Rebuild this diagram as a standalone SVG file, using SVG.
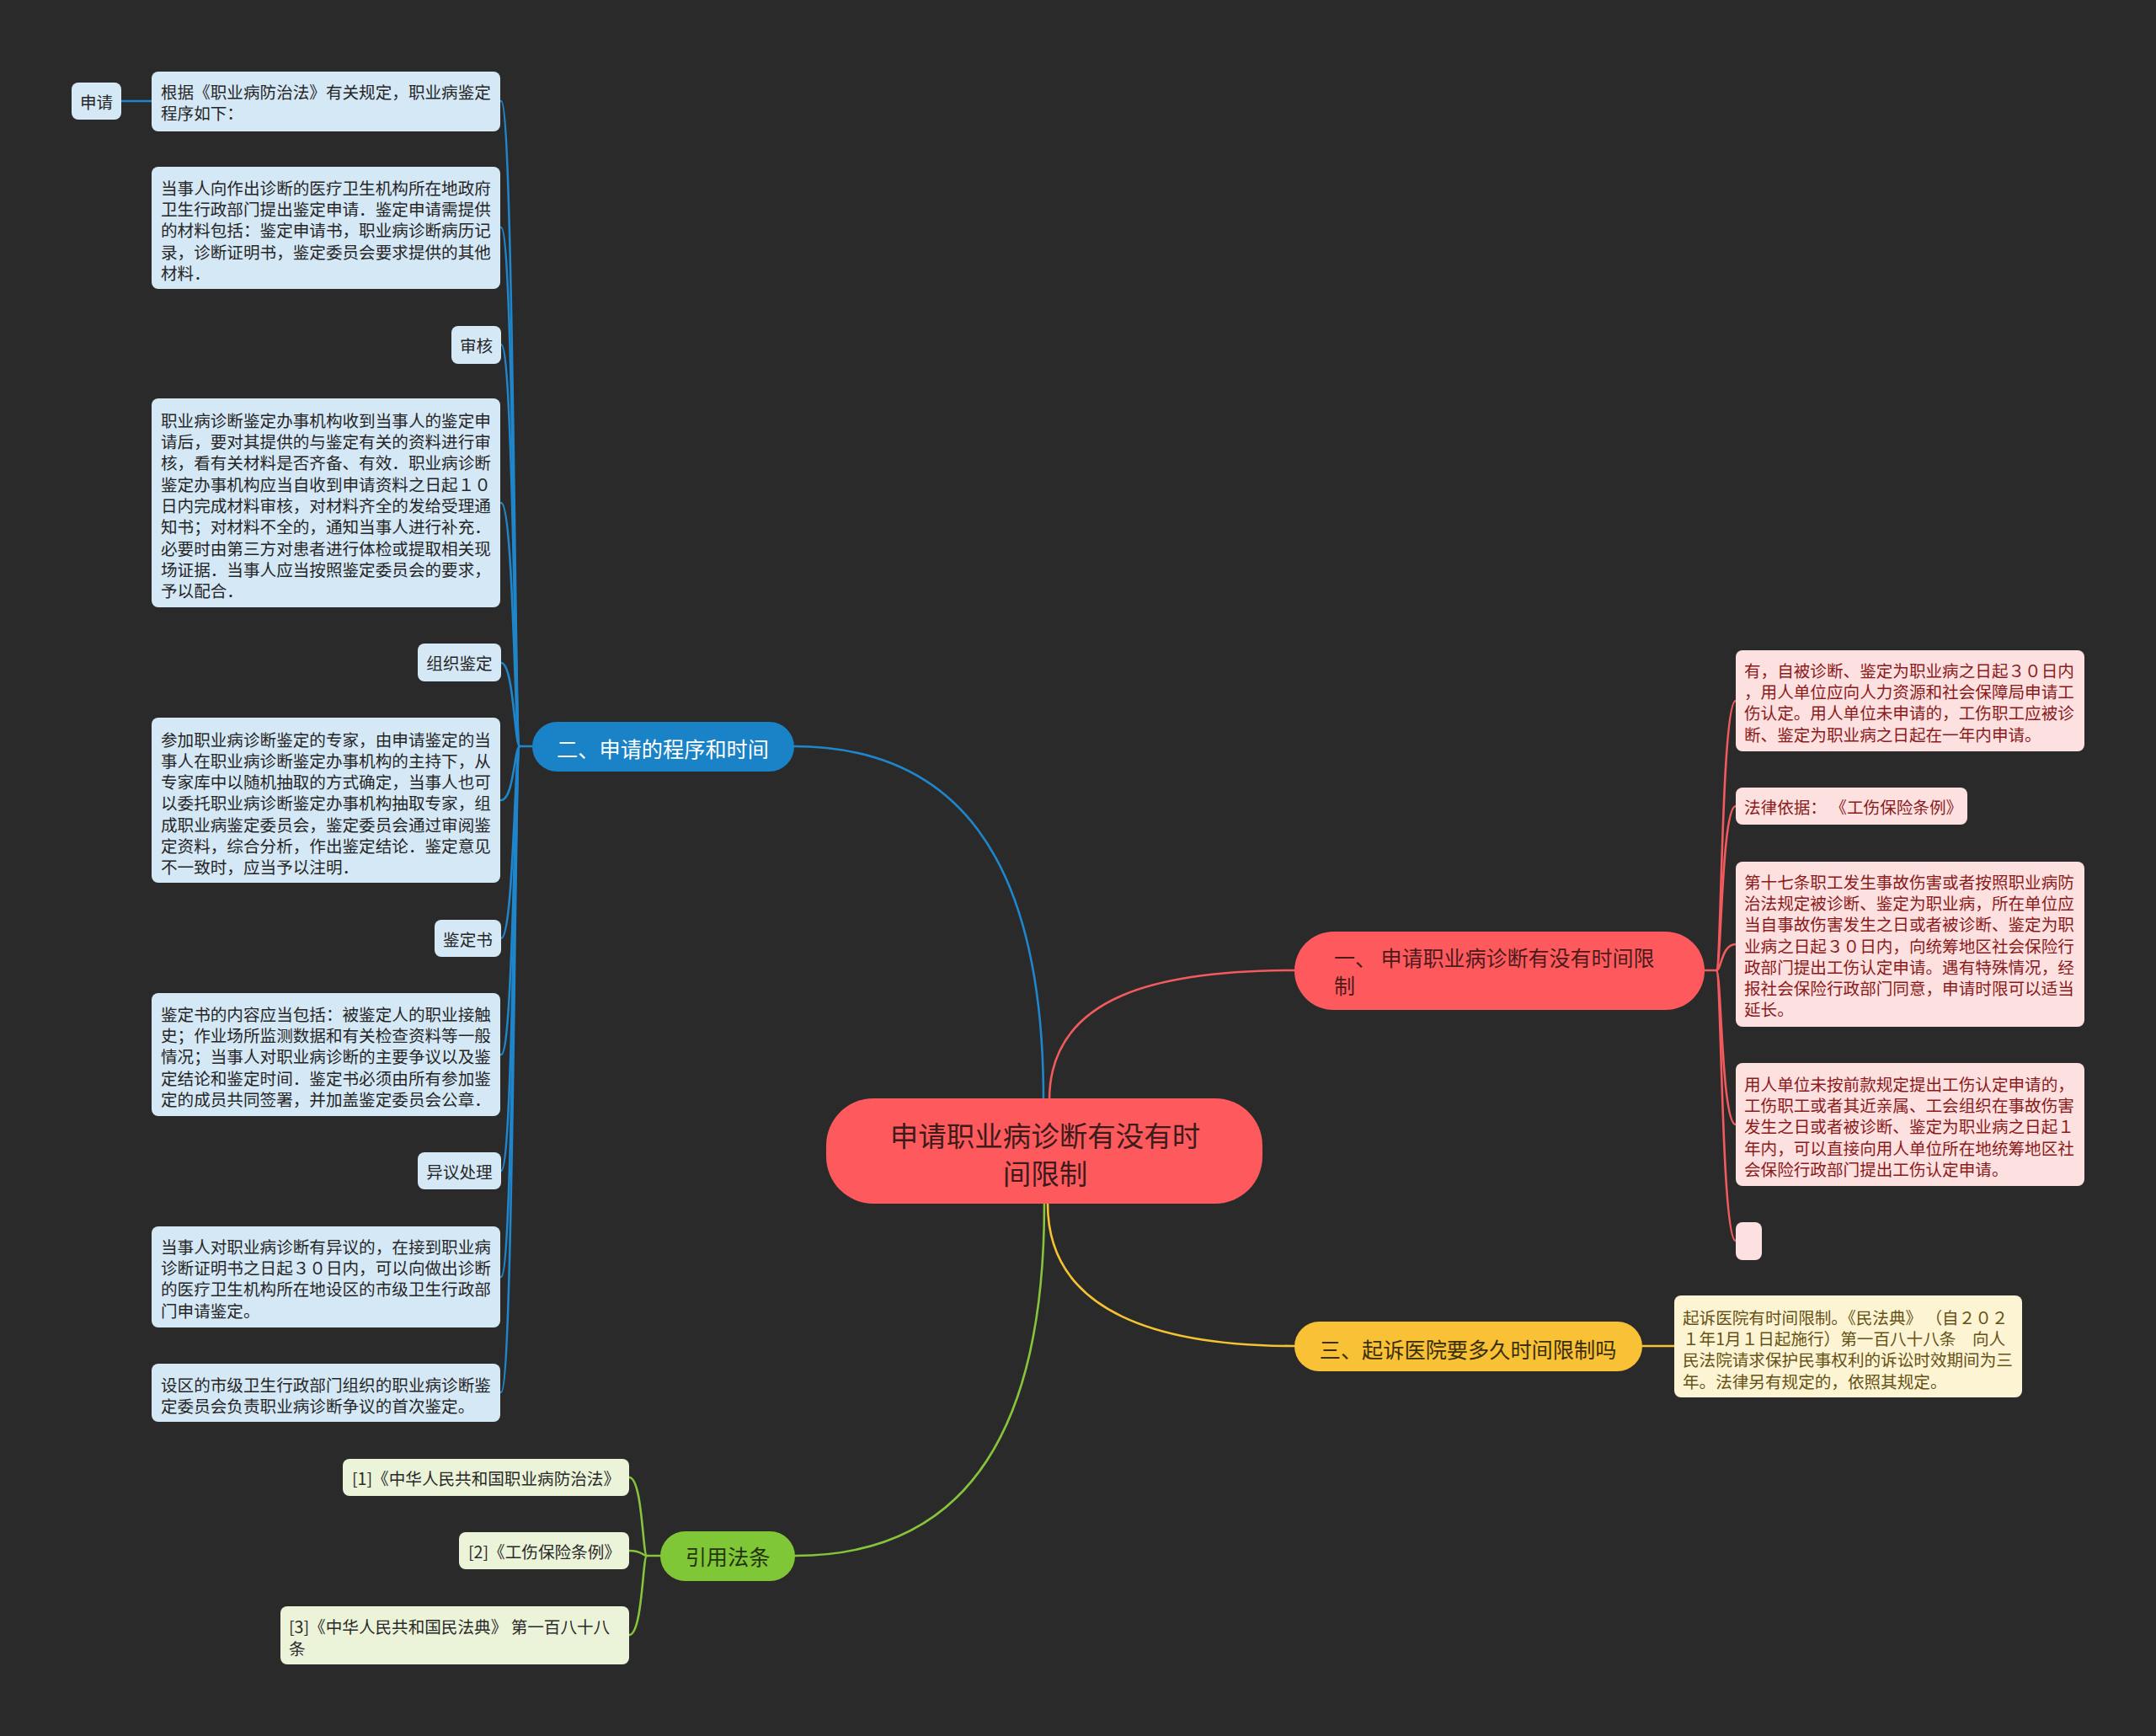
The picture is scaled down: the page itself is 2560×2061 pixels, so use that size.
<svg xmlns="http://www.w3.org/2000/svg" width="2560" height="2061" viewBox="0 0 2560 2061">
<style>
text{font-family:"Noto Sans CJK SC","Noto Sans",sans-serif;dominant-baseline:central}
.lb{fill:#d5e8f6}
.lr{fill:#fde1e1}
.ly{fill:#fdf4d3}
.lg{fill:#ebf3d8}
.tb{font-size:19.6px;fill:#262626}
.tr{font-size:19.6px;fill:#8b1a1a}
.ty{font-size:19.6px;fill:#655216}
.tg{font-size:19.6px;fill:#2a2a2a}
.c{fill:none;stroke-width:2.6;stroke-linecap:round}
.cb{stroke:#1f86cc}
.cr{stroke:#f25a5e}
.cy{stroke:#f5c231}
.cg{stroke:#86c53b}
.mid{text-anchor:middle}
</style>
<rect x="0" y="0" width="2560" height="2061" fill="#2a2a2a"/>

<g id="connectors">
  <path class="c cb" d="M1239,1306 C1239,1010 1130,886 942,886" stroke-width="3"/>
  <path class="c cr" d="M1246,1306 C1246,1180 1380,1152 1537,1152" stroke-width="3"/>
  <path class="c cy" d="M1244,1429 C1244,1560 1380,1598 1537,1598" stroke-width="3"/>
  <path class="c cg" d="M1240,1429 C1240,1760 1100,1847 944,1847" stroke-width="3"/>

  <path class="c cb" d="M144,120 L180,120" stroke-width="3.5"/>
  <path class="c cb" d="M632,886 L617,886"/>
  <path class="c cb" d="M617,886 C611,886 610,120 595,120"/>
  <path class="c cb" d="M617,886 C611,886 610,270 595,270"/>
  <path class="c cb" d="M617,886 C611,886 610,409 595,409"/>
  <path class="c cb" d="M617,886 C611,886 610,597 595,597"/>
  <path class="c cb" d="M617,886 C611,886 610,787 595,787"/>
  <path class="c cb" d="M617,886 C611,886 610,950 595,950"/>
  <path class="c cb" d="M617,886 C611,886 610,1114 595,1114"/>
  <path class="c cb" d="M617,886 C611,886 610,1252 595,1252"/>
  <path class="c cb" d="M617,886 C611,886 610,1390 595,1390"/>
  <path class="c cb" d="M617,886 C611,886 610,1516 595,1516"/>
  <path class="c cb" d="M617,886 C611,886 610,1653 595,1653"/>

  <path class="c cr" d="M2024,1152 L2038,1152"/>
  <path class="c cr" d="M2038,1152 C2044,1152 2044,832 2061,832"/>
  <path class="c cr" d="M2038,1152 C2044,1152 2044,957 2061,957"/>
  <path class="c cr" d="M2038,1152 C2044,1152 2044,1121 2061,1121"/>
  <path class="c cr" d="M2038,1152 C2044,1152 2044,1335 2061,1335"/>
  <path class="c cr" d="M2038,1152 C2044,1152 2044,1473 2061,1473"/>

  <path class="c cy" d="M1950,1598 L1988,1598"/>

  <path class="c cg" d="M784,1847 L768,1847"/>
  <path class="c cg" d="M768,1847 C763,1847 763,1754 747,1754"/>
  <path class="c cg" d="M768,1847 C763,1847 763,1841 747,1841"/>
  <path class="c cg" d="M768,1847 C763,1847 763,1941 747,1941"/>
</g>

<g id="center">
  <rect x="981" y="1304" width="518" height="125" rx="56" fill="#fe5a5e"/>
  <text class="mid" x="1241" y="1346" font-size="33.5" fill="#3d1b1b">申请职业病诊断有没有时</text>
  <text class="mid" x="1241" y="1391" font-size="33.5" fill="#3d1b1b">间限制</text>
</g>

<g id="branch2">
  <rect x="632" y="857" width="311" height="59" rx="29.5" fill="#1a82c6"/>
  <text class="mid" x="787" y="888" font-size="25.2" fill="#ffffff">二、申请的程序和时间</text>
</g>

<g id="branch1">
  <rect x="1537" y="1106" width="487" height="93" rx="46.5" fill="#fe5a5e"/>
  <text x="1584" y="1136" font-size="25" fill="#4d1a1a">一、 申请职业病诊断有没有时间限</text>
  <text x="1584" y="1169" font-size="25" fill="#4d1a1a">制</text>
</g>

<g id="branch3">
  <rect x="1537" y="1569" width="413" height="59" rx="29.5" fill="#f8c136"/>
  <text class="mid" x="1743" y="1601" font-size="25.2" fill="#3b2f0c">三、起诉医院要多久时间限制吗</text>
</g>

<g id="branch4">
  <rect x="784" y="1818" width="160" height="59" rx="29.5" fill="#80c737"/>
  <text class="mid" x="864" y="1847" font-size="25.2" fill="#24340f">引用法条</text>
</g>

<g id="b-shenqing">
  <rect class="lb" x="85" y="98" width="59" height="44" rx="8"/>
  <text class="tb mid" x="114.5" y="120">申请</text>
</g>
<g id="b-genju">
  <rect class="lb" x="180" y="85" width="414" height="71" rx="8"/>
  <text class="tb" x="191" y="108">根据《职业病防治法》有关规定，职业病鉴定</text>
  <text class="tb" x="191" y="133">程序如下：</text>
</g>
<g id="b-dangshiren1">
  <rect class="lb" x="180" y="198" width="414" height="145" rx="8"/>
  <text class="tb" x="191" y="222">当事人向作出诊断的医疗卫生机构所在地政府</text>
  <text class="tb" x="191" y="247.3">卫生行政部门提出鉴定申请．鉴定申请需提供</text>
  <text class="tb" x="191" y="272.6">的材料包括：鉴定申请书，职业病诊断病历记</text>
  <text class="tb" x="191" y="298">录，诊断证明书，鉴定委员会要求提供的其他</text>
  <text class="tb" x="191" y="323.2">材料．</text>
</g>
<g id="b-shenhe">
  <rect class="lb" x="536" y="387" width="59" height="45" rx="8"/>
  <text class="tb mid" x="565.5" y="409.5">审核</text>
</g>
<g id="b-zhiye">
  <rect class="lb" x="180" y="473" width="414" height="248" rx="8"/>
  <text class="tb" x="191" y="498">职业病诊断鉴定办事机构收到当事人的鉴定申</text>
  <text class="tb" x="191" y="523.4">请后，要对其提供的与鉴定有关的资料进行审</text>
  <text class="tb" x="191" y="548.7">核，看有关材料是否齐备、有效．职业病诊断</text>
  <text class="tb" x="191" y="574">鉴定办事机构应当自收到申请资料之日起１０</text>
  <text class="tb" x="191" y="599.4">日内完成材料审核，对材料齐全的发给受理通</text>
  <text class="tb" x="191" y="624.8">知书；对材料不全的，通知当事人进行补充．</text>
  <text class="tb" x="191" y="650.1">必要时由第三方对患者进行体检或提取相关现</text>
  <text class="tb" x="191" y="675.5">场证据．当事人应当按照鉴定委员会的要求，</text>
  <text class="tb" x="191" y="700.8">予以配合．</text>
</g>
<g id="b-zuzhi">
  <rect class="lb" x="496" y="764" width="99" height="45" rx="8"/>
  <text class="tb mid" x="545.5" y="786.5">组织鉴定</text>
</g>
<g id="b-canjia">
  <rect class="lb" x="180" y="852" width="414" height="196" rx="8"/>
  <text class="tb" x="191" y="877">参加职业病诊断鉴定的专家，由申请鉴定的当</text>
  <text class="tb" x="191" y="902.3">事人在职业病诊断鉴定办事机构的主持下，从</text>
  <text class="tb" x="191" y="927.6">专家库中以随机抽取的方式确定，当事人也可</text>
  <text class="tb" x="191" y="952.9">以委托职业病诊断鉴定办事机构抽取专家，组</text>
  <text class="tb" x="191" y="978.2">成职业病鉴定委员会，鉴定委员会通过审阅鉴</text>
  <text class="tb" x="191" y="1003.5">定资料，综合分析，作出鉴定结论．鉴定意见</text>
  <text class="tb" x="191" y="1028.8">不一致时，应当予以注明．</text>
</g>
<g id="b-jiandingshu">
  <rect class="lb" x="516" y="1092" width="79" height="44" rx="8"/>
  <text class="tb mid" x="555.5" y="1114">鉴定书</text>
</g>
<g id="b-neirong">
  <rect class="lb" x="180" y="1179" width="414" height="146" rx="8"/>
  <text class="tb" x="191" y="1203">鉴定书的内容应当包括：被鉴定人的职业接触</text>
  <text class="tb" x="191" y="1228.3">史；作业场所监测数据和有关检查资料等一般</text>
  <text class="tb" x="191" y="1253.6">情况；当事人对职业病诊断的主要争议以及鉴</text>
  <text class="tb" x="191" y="1279">定结论和鉴定时间．鉴定书必须由所有参加鉴</text>
  <text class="tb" x="191" y="1304.2">定的成员共同签署，并加盖鉴定委员会公章．</text>
</g>
<g id="b-yiyi">
  <rect class="lb" x="496" y="1368" width="99" height="44" rx="8"/>
  <text class="tb mid" x="545.5" y="1390">异议处理</text>
</g>
<g id="b-dangshiren2">
  <rect class="lb" x="180" y="1456" width="414" height="120" rx="8"/>
  <text class="tb" x="191" y="1479">当事人对职业病诊断有异议的，在接到职业病</text>
  <text class="tb" x="191" y="1504.3">诊断证明书之日起３０日内，可以向做出诊断</text>
  <text class="tb" x="191" y="1529.6">的医疗卫生机构所在地设区的市级卫生行政部</text>
  <text class="tb" x="191" y="1555">门申请鉴定。</text>
</g>
<g id="b-shequ">
  <rect class="lb" x="180" y="1619" width="414" height="69" rx="8"/>
  <text class="tb" x="191" y="1643">设区的市级卫生行政部门组织的职业病诊断鉴</text>
  <text class="tb" x="191" y="1668">定委员会负责职业病诊断争议的首次鉴定。</text>
</g>

<g id="r-you">
  <rect class="lr" x="2061" y="772" width="414" height="120" rx="8"/>
  <text class="tr" x="2071" y="795">有，自被诊断、鉴定为职业病之日起３０日内</text>
  <text class="tr" x="2071" y="820.3">，用人单位应向人力资源和社会保障局申请工</text>
  <text class="tr" x="2071" y="845.6">伤认定。用人单位未申请的，工伤职工应被诊</text>
  <text class="tr" x="2071" y="871">断、鉴定为职业病之日起在一年内申请。</text>
</g>
<g id="r-falv">
  <rect class="lr" x="2061" y="935" width="275" height="44" rx="8"/>
  <text class="tr" x="2071" y="957" xml:space="preserve">法律依据： 《工伤保险条例》</text>
</g>
<g id="r-shiqi">
  <rect class="lr" x="2061" y="1023" width="414" height="196" rx="8"/>
  <text class="tr" x="2071" y="1046">第十七条职工发生事故伤害或者按照职业病防</text>
  <text class="tr" x="2071" y="1071.3">治法规定被诊断、鉴定为职业病，所在单位应</text>
  <text class="tr" x="2071" y="1096.6">当自事故伤害发生之日或者被诊断、鉴定为职</text>
  <text class="tr" x="2071" y="1122">业病之日起３０日内，向统筹地区社会保险行</text>
  <text class="tr" x="2071" y="1147.2">政部门提出工伤认定申请。遇有特殊情况，经</text>
  <text class="tr" x="2071" y="1172.5">报社会保险行政部门同意，申请时限可以适当</text>
  <text class="tr" x="2071" y="1197.8">延长。</text>
</g>
<g id="r-yongren">
  <rect class="lr" x="2061" y="1262" width="414" height="146" rx="8"/>
  <text class="tr" x="2071" y="1286">用人单位未按前款规定提出工伤认定申请的，</text>
  <text class="tr" x="2071" y="1311.3">工伤职工或者其近亲属、工会组织在事故伤害</text>
  <text class="tr" x="2071" y="1336.6">发生之日或者被诊断、鉴定为职业病之日起１</text>
  <text class="tr" x="2071" y="1362">年内，可以直接向用人单位所在地统筹地区社</text>
  <text class="tr" x="2071" y="1387.2">会保险行政部门提出工伤认定申请。</text>
</g>
<g id="r-empty">
  <rect class="lr" x="2061" y="1451" width="31" height="45" rx="8"/>
</g>

<g id="y-qisu">
  <rect class="ly" x="1988" y="1538" width="413" height="121" rx="8"/>
  <text class="ty" x="1998" y="1563" xml:space="preserve">起诉医院有时间限制。《民法典》 （自２０２</text>
  <text class="ty" x="1998" y="1588.3">１年1月１日起施行）第一百八十八条　向人</text>
  <text class="ty" x="1998" y="1613.6">民法院请求保护民事权利的诉讼时效期间为三</text>
  <text class="ty" x="1998" y="1639">年。法律另有规定的，依照其规定。</text>
</g>

<g id="g-ref1">
  <rect class="lg" x="407" y="1732" width="340" height="44" rx="8"/>
  <text class="tg" x="418" y="1754">[1]《中华人民共和国职业病防治法》</text>
</g>
<g id="g-ref2">
  <rect class="lg" x="545" y="1819" width="202" height="44" rx="8"/>
  <text class="tg" x="556" y="1841">[2]《工伤保险条例》</text>
</g>
<g id="g-ref3">
  <rect class="lg" x="333" y="1907" width="414" height="69" rx="8"/>
  <text class="tg" x="343" y="1930">[3]《中华人民共和国民法典》 第一百八十八</text>
  <text class="tg" x="343" y="1956">条</text>
</g>
</svg>
